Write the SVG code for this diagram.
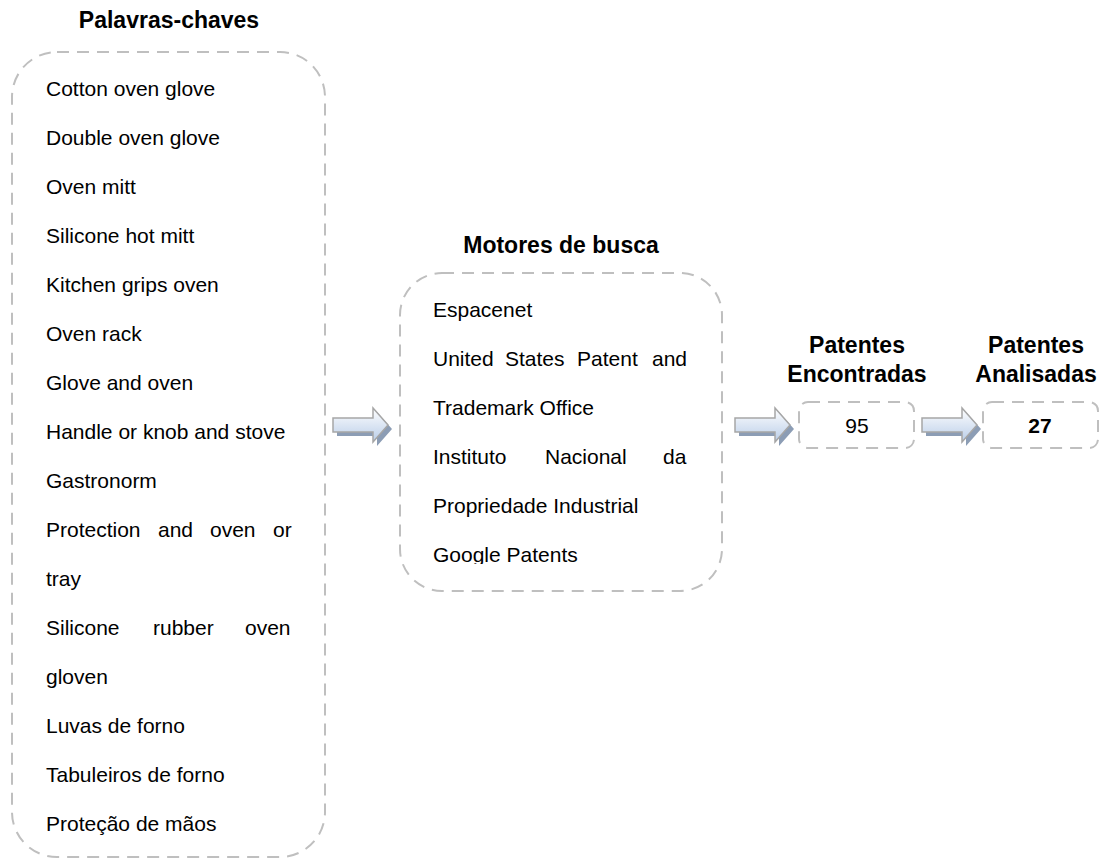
<svg xmlns="http://www.w3.org/2000/svg" width="1110" height="859" viewBox="0 0 1110 859">
<defs>
<linearGradient id="ag" x1="0" y1="0" x2="0" y2="1">
<stop offset="0" stop-color="#ffffff"/>
<stop offset="1" stop-color="#b9cde8"/>
</linearGradient>
<clipPath id="midclip"><rect x="400" y="273" width="322" height="291"/></clipPath>
<path id="arr" d="M0,-7 H40 V-17 L55,0 L40,17 V7 H0 Z"/>
</defs>
<style>
.box{fill:none;stroke:#bfbfbf;stroke-width:2;stroke-dasharray:12 8}
.t{font-family:"Liberation Sans",Arial,sans-serif;font-size:21px;fill:#000}
.h{font-family:"Liberation Sans",Arial,sans-serif;font-size:23px;font-weight:bold;fill:#000;text-anchor:middle}
.shadow{fill:#8c9db5}
.arrow{fill:url(#ag);stroke:#a6a6a6;stroke-width:1.5}
</style>
<rect width="1110" height="859" fill="#fff"/>

<g id="palavras">
<text class="h" x="169" y="28">Palavras-chaves</text>
<rect class="box" x="12" y="52" width="313" height="805" rx="45" ry="45"/>
<text class="t" x="46" y="96">Cotton oven glove</text>
<text class="t" x="46" y="145">Double oven glove</text>
<text class="t" x="46" y="194">Oven mitt</text>
<text class="t" x="46" y="243">Silicone hot mitt</text>
<text class="t" x="46" y="292">Kitchen grips oven</text>
<text class="t" x="46" y="341">Oven rack</text>
<text class="t" x="46" y="390">Glove and oven</text>
<text class="t" x="46" y="439">Handle or knob and stove</text>
<text class="t" x="46" y="488">Gastronorm</text>
<text class="t" y="537"><tspan x="46">Protection</tspan><tspan x="158">and</tspan><tspan x="210">oven</tspan><tspan x="273">or</tspan></text>
<text class="t" x="46" y="586">tray</text>
<text class="t" y="635"><tspan x="46">Silicone</tspan><tspan x="153">rubber</tspan><tspan x="245">oven</tspan></text>
<text class="t" x="46" y="684">gloven</text>
<text class="t" x="46" y="733">Luvas de forno</text>
<text class="t" x="46" y="782">Tabuleiros de forno</text>
<text class="t" x="46" y="831">Proteção de mãos</text>
</g>

<g id="motores">
<text class="h" x="561" y="253">Motores de busca</text>
<rect class="box" x="400" y="273" width="322" height="318" rx="42" ry="42"/>
<g clip-path="url(#midclip)">
<text class="t" x="433" y="317">Espacenet</text>
<text class="t" y="366"><tspan x="433">United</tspan><tspan x="505">States</tspan><tspan x="577">Patent</tspan><tspan x="652">and</tspan></text>
<text class="t" x="433" y="415">Trademark Office</text>
<text class="t" y="464"><tspan x="433">Instituto</tspan><tspan x="545">Nacional</tspan><tspan x="663">da</tspan></text>
<text class="t" x="433" y="513">Propriedade Industrial</text>
<text class="t" x="433" y="562">Google Patents</text>
</g>
</g>

<g id="encontradas">
<text class="h" x="857" y="353">Patentes</text>
<text class="h" x="857" y="382">Encontradas</text>
<rect class="box" x="799" y="402" width="115" height="46" rx="9" ry="9"/>
<text class="t" x="857" y="433" text-anchor="middle">95</text>
</g>

<g id="analisadas">
<text class="h" x="1036" y="353">Patentes</text>
<text class="h" x="1036" y="382">Analisadas</text>
<rect class="box" x="983" y="402" width="115" height="46" rx="9" ry="9"/>
<text class="t" x="1040" y="433" text-anchor="middle" font-weight="bold">27</text>
</g>

<g id="connectors">
<use href="#arr" class="shadow" transform="translate(337,429)"/>
<use href="#arr" class="arrow" transform="translate(333,425)"/>
<use href="#arr" class="shadow" transform="translate(739,429)"/>
<use href="#arr" class="arrow" transform="translate(735,425)"/>
<use href="#arr" class="shadow" transform="translate(926,429)"/>
<use href="#arr" class="arrow" transform="translate(922,425)"/>
</g>
</svg>
